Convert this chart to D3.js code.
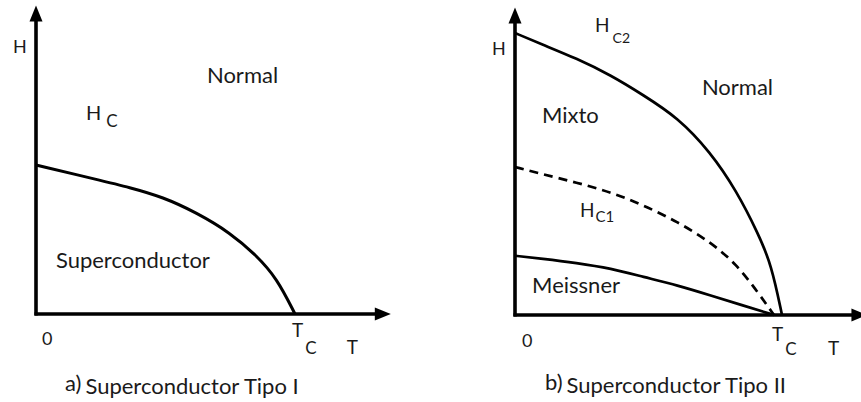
<!DOCTYPE html>
<html>
<head>
<meta charset="utf-8">
<script src="https://cdn.jsdelivr.net/npm/d3@7"></script>
<style>
  html, body { margin: 0; padding: 0; background: #ffffff; }
  svg { display: block; }
  text { font-family: Lato, "Open Sans", sans-serif; fill: #1a1a1a; }
</style>
</head>
<body>
<svg id="chart" width="861" height="402"></svg>
<script>
// ---- Data: temperature in units of Tc, field in units of the zero-temperature critical field ----

// Type I: critical field Hc(T)
const hcT = [0, 0.24, 0.36, 0.49, 0.62, 0.75, 0.85, 0.93, 1.0];
const hcH = [1.0, 0.90, 0.85, 0.785, 0.68, 0.545, 0.395, 0.24, 0];

// Type II: upper critical field Hc2(T)
const hc2T = [0, 0.10, 0.23, 0.36, 0.48, 0.61, 0.73, 0.83, 0.91, 0.96, 1.0];
const hc2H = [1.0, 0.96, 0.91, 0.85, 0.78, 0.70, 0.58, 0.44, 0.29, 0.18, 0];

// Type II: dashed boundary inside the mixed state
const dashT = [0, 0.10, 0.23, 0.36, 0.48, 0.61, 0.73, 0.83, 0.91, 0.97];
const dashH = [0.525, 0.50, 0.47, 0.435, 0.39, 0.33, 0.26, 0.18, 0.08, 0];

// Type II: lower boundary of the Meissner region
const meisT = [0, 0.10, 0.23, 0.36, 0.48, 0.61, 0.73, 0.85, 0.97];
const meisH = [0.21, 0.20, 0.185, 0.165, 0.135, 0.105, 0.07, 0.035, 0];

// Axis ends (arrow tips), in data units
const axisEndL = { t: 1.37, h: 2.07 };
const axisEndR = { t: 1.32, h: 1.09 };

// Captions
const captions = ["a)", "Superconductor Tipo I", "b)", "Superconductor Tipo II"];

// ---- Layout ----
const svg = d3.select("#chart");

const panels = [
  {
    x: d3.scaleLinear().domain([0, 1]).range([36, 295]),
    y: d3.scaleLinear().domain([0, 1]).range([314, 165]),
    end: axisEndL,
    curves: [
      { t: hcT, h: hcH, width: 3, dash: null }
    ],
    labels: [
      { text: "H", t: -0.089, h: 1.75, size: 18 },
      { text: "Normal", t: 0.66, h: 1.55, size: 22 },
      { text: "H", sub: "C", t: 0.193, h: 1.30, size: 20, subSize: 17, dx: 5, dy: 7 },
      { text: "Superconductor", t: 0.077, h: 0.309, size: 22 },
      { text: "0", t: 0.023, h: -0.208, size: 18 },
      { text: "T", sub: "C", t: 0.988, h: -0.154, size: 19, subSize: 17, dx: 2, dy: 17 },
      { text: "T", t: 1.20, h: -0.268, size: 19 }
    ],
    caption: { pre: captions[0], main: captions[1], x: 65, y: 394 }
  },
  {
    x: d3.scaleLinear().domain([0, 1]).range([515, 782]),
    y: d3.scaleLinear().domain([0, 1]).range([315, 33]),
    end: axisEndR,
    curves: [
      { t: hc2T, h: hc2H, width: 2.7, dash: null },
      { t: dashT, h: dashH, width: 2.7, dash: "9,6" },
      { t: meisT, h: meisH, width: 2.7, dash: null }
    ],
    labels: [
      { text: "H", t: -0.086, h: 0.922, size: 18 },
      { text: "H", sub: "C2", t: 0.300, h: 1.004, size: 19, subSize: 14, dx: 3, dy: 11 },
      { text: "Normal", t: 0.700, h: 0.780, size: 22 },
      { text: "Mixto", t: 0.101, h: 0.681, size: 22 },
      { text: "H", sub: "C1", t: 0.243, h: 0.348, size: 19, subSize: 15, dx: 1, dy: 5 },
      { text: "Meissner", t: 0.064, h: 0.078, size: 22 },
      { text: "0", t: 0.026, h: -0.113, size: 18 },
      { text: "T", sub: "C", t: 0.963, h: -0.092, size: 19, subSize: 17, dx: 2, dy: 14 },
      { text: "T", t: 1.172, h: -0.142, size: 19 }
    ],
    caption: { pre: captions[2], main: captions[3], x: 545, y: 393 }
  }
];

const line = (x, y) => d3.line()
  .x(d => x(d[0]))
  .y(d => y(d[1]))
  .curve(d3.curveBasis);

panels.forEach(p => {
  const g = svg.append("g");
  const x0 = p.x(0), y0 = p.y(0);
  const xEnd = p.x(p.end.t), yEnd = p.y(p.end.h);
  const head = 16, half = 6.5;

  // Axes
  g.append("line")
    .attr("x1", x0).attr("y1", y0 + 1.5)
    .attr("x2", x0).attr("y2", yEnd + head - 2)
    .attr("stroke", "#000").attr("stroke-width", 3.6);
  g.append("line")
    .attr("x1", x0 - 1.5).attr("y1", y0)
    .attr("x2", xEnd - head + 2).attr("y2", y0)
    .attr("stroke", "#000").attr("stroke-width", 3.6);

  // Arrow heads
  g.append("path")
    .attr("d", `M${x0},${yEnd} L${x0 + half},${yEnd + head} L${x0 - half},${yEnd + head} Z`)
    .attr("fill", "#000");
  g.append("path")
    .attr("d", `M${xEnd},${y0} L${xEnd - head},${y0 - half} L${xEnd - head},${y0 + half} Z`)
    .attr("fill", "#000");

  // Phase boundaries
  p.curves.forEach(c => {
    const pts = c.t.map((t, i) => [t, c.h[i]]);
    g.append("path")
      .attr("d", line(p.x, p.y)(pts))
      .attr("fill", "none")
      .attr("stroke", "#000")
      .attr("stroke-width", c.width)
      .attr("stroke-linecap", "butt")
      .attr("stroke-dasharray", c.dash);
  });

  // Region and axis labels
  p.labels.forEach(l => {
    const t = g.append("text")
      .attr("x", p.x(l.t))
      .attr("y", p.y(l.h))
      .style("font-size", l.size + "px");
    t.append("tspan").text(l.text);
    if (l.sub) {
      t.append("tspan")
        .attr("dx", l.dx)
        .attr("dy", l.dy)
        .style("font-size", l.subSize + "px")
        .text(l.sub);
    }
  });

  // Caption
  const cap = g.append("text")
    .attr("x", p.caption.x)
    .attr("y", p.caption.y)
    .style("font-size", "22px");
  cap.append("tspan").attr("dy", -3).text(p.caption.pre);
  cap.append("tspan").attr("dx", 4).attr("dy", 3).text(p.caption.main);
});
</script>
</body>
</html>
